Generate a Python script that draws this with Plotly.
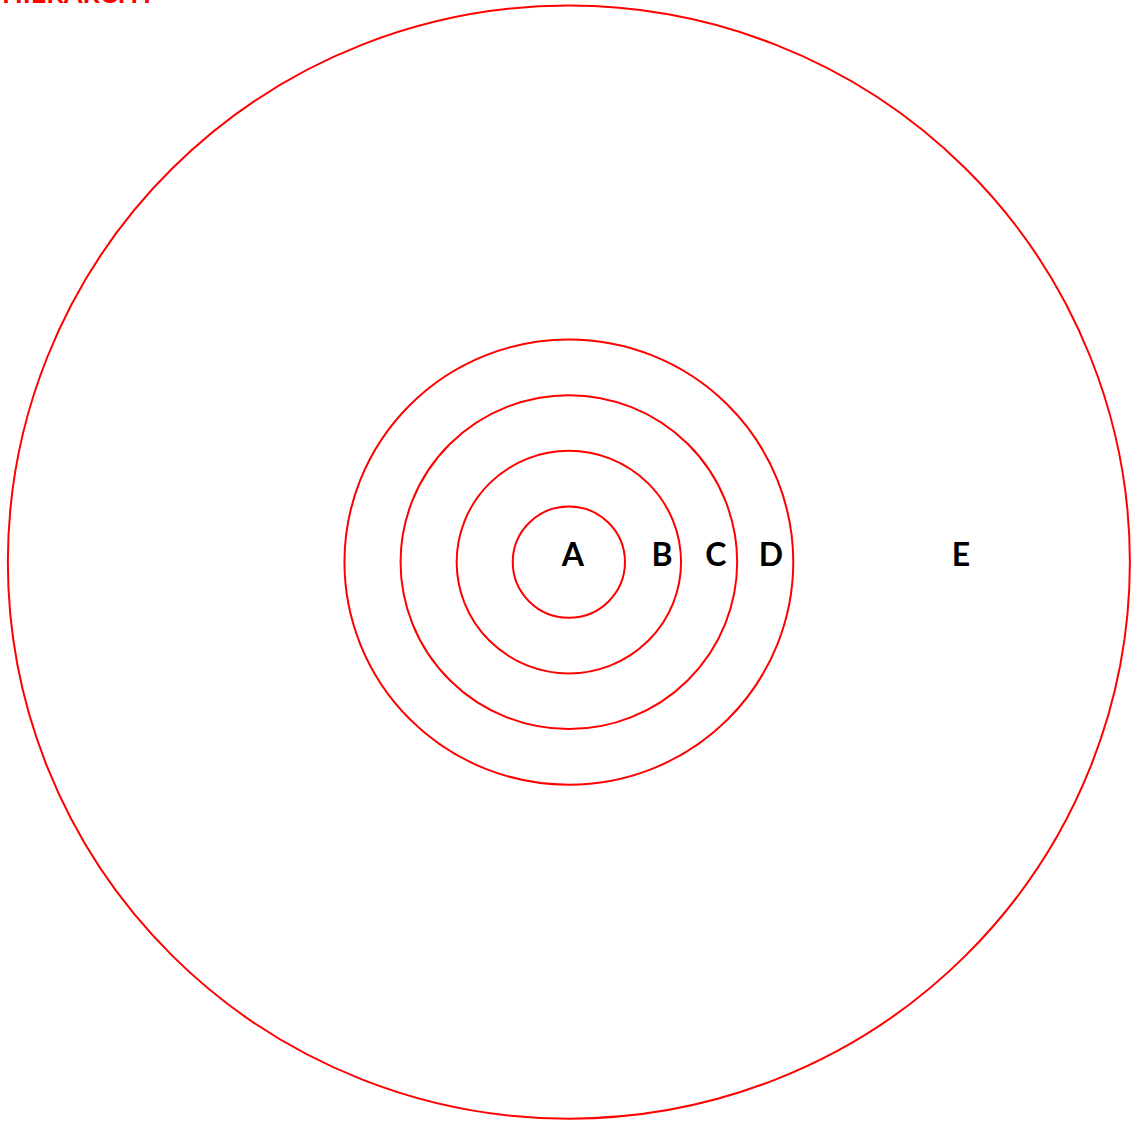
import plotly.graph_objects as go

# data
labels = ["A", "B", "C", "D", "E"]
radii = [1, 2, 3, 4, 10]
label_x = [0.07, 1.66, 2.62, 3.6, 6.99]
label_y = [0.07, 0.07, 0.07, 0.07, 0.07]
title_text = "HIERARCHY"

fig = go.Figure()
for r in radii:
    fig.add_shape(type="circle", xref="x", yref="y", x0=-r, x1=r, y0=-r, y1=r,
                  line=dict(color="#ff0000", width=2), fillcolor="rgba(0,0,0,0)")

fig.add_trace(go.Scatter(x=label_x, y=label_y, mode="text", text=labels,
                         textfont=dict(family="Lato", size=32, color="black", weight="bold"),
                         hoverinfo="skip", showlegend=False))

fig.add_annotation(text="<b>" + title_text + "</b>", xref="paper", yref="paper", x=0, y=1,
                   xanchor="left", yanchor="bottom", yshift=-11, showarrow=False,
                   font=dict(family="Lato", size=27, color="#ff0000"))

fig.update_layout(width=1131, height=1122, margin=dict(l=0, r=0, t=0, b=0),
                  paper_bgcolor="white", plot_bgcolor="white",
                  xaxis=dict(range=[-10.14, 10.02], visible=False, fixedrange=True),
                  yaxis=dict(range=[-10.06, 10.10], visible=False, fixedrange=True))
fig.write_html("out.html", config={"displayModeBar": False},
               post_script="document.body.style.margin='0';document.body.style.overflow='hidden';")
